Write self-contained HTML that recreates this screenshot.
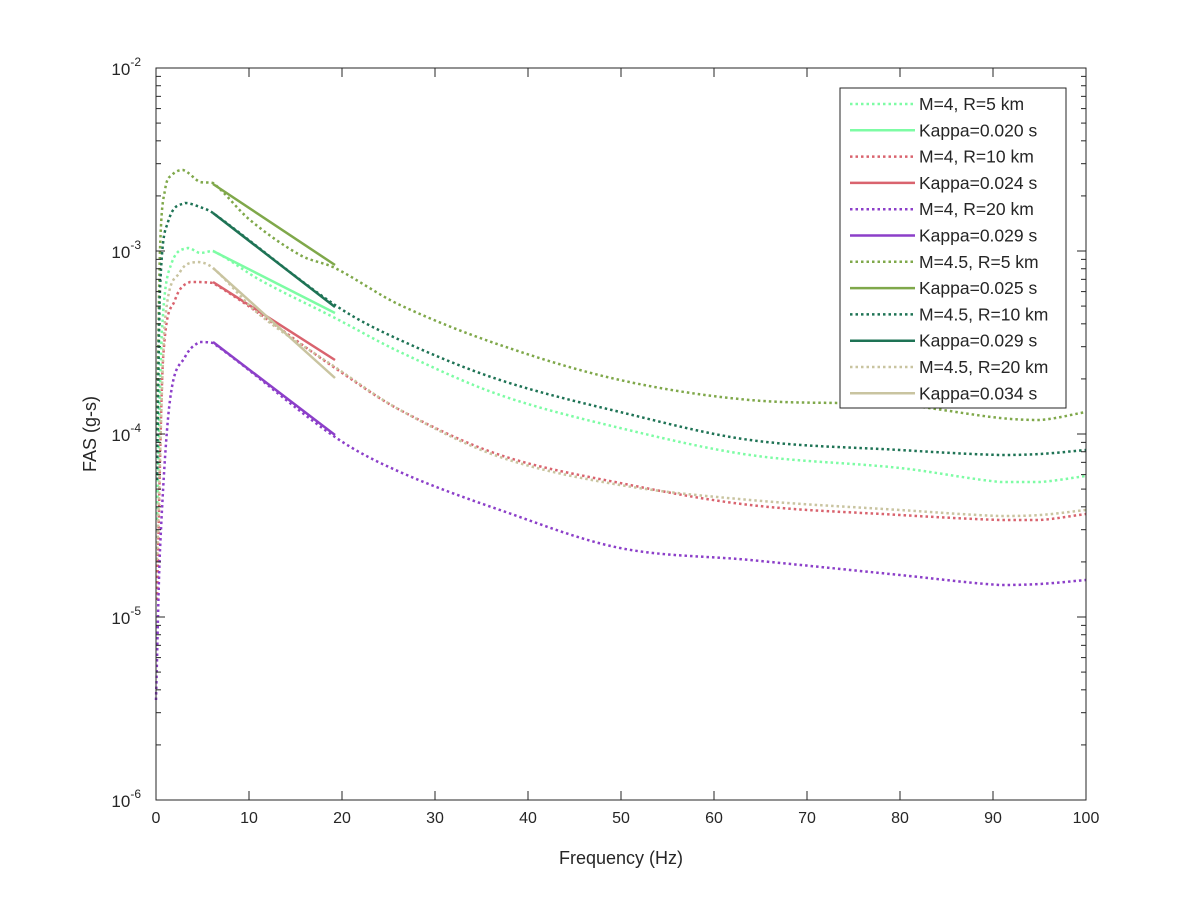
<!DOCTYPE html>
<html><head><meta charset="utf-8"><style>
body{margin:0;background:#fff}
svg text{font-family:"Liberation Sans",Arial,sans-serif;fill:#262626}
</style></head><body>
<svg id="s" width="1200" height="900" xmlns="http://www.w3.org/2000/svg">
<rect width="1200" height="900" fill="#fff"/>
<g id="curves"></g>
<g id="axes"></g>
<text x="621" y="864" font-size="18" text-anchor="middle">Frequency (Hz)</text>
<text transform="translate(96,434) rotate(-90)" font-size="18" text-anchor="middle">FAS (g-s)</text>
<g id="leg"></g>
</svg>
<script>
const NS="http://www.w3.org/2000/svg";
function el(p,t,a,txt){const e=document.createElementNS(NS,t);for(const k in a)e.setAttribute(k,a[k]);if(txt!=null)e.textContent=txt;document.getElementById(p).appendChild(e);return e;}
const L=156,R=1086,T=68,B=800;
const cols=["#7dfca4","#d9636e","#8c3fc9","#7fa84a","#1e7355","#c9c4a0"];
const dotted=[
[[157,520],[162,330],[172,262],[188,248],[200,253],[213,251],[260,280],[335,318],[400,352],[500,395],[620,428],[750,455],[900,468],[1000,482],[1040,482],[1086,476]],
[[157,600],[163,360],[175,300],[190,282],[213,283],[335,368],[400,410],[500,455],[620,483],[750,505],[900,515],[1000,520],[1040,520],[1086,514]],
[[156,700],[160,550],[170,400],[185,357],[200,342],[213,343],[335,437],[400,472],[500,510],[620,548],[750,560],[900,575],[1000,585],[1040,584],[1086,580]],
[[157,430],[160,250],[165,190],[172,175],[183,170],[200,182],[213,183],[250,220],[300,255],[335,268],[400,305],[500,345],[620,380],[750,400],[900,405],[1000,418],[1040,420],[1086,412]],
[[157,480],[160,290],[168,222],[185,203],[200,207],[213,213],[335,305],[400,340],[500,380],[620,412],[750,440],[900,450],[1000,455],[1040,454],[1086,450]],
[[157,560],[165,320],[180,272],[197,262],[213,268],[260,315],[335,367],[400,410],[500,457],[620,485],[750,500],[900,510],[1000,516],[1040,515],[1086,510]]];
const solid=[[[213,251],[335,313]],[[213,282],[335,360]],[[213,342],[335,435]],[[213,184],[335,265]],[[213,213],[335,307]],[[213,268],[335,378]]];
function path(p){let d="M"+p[0];for(let i=1;i<p.length;i++){const p0=p[Math.max(0,i-2)],p1=p[i-1],p2=p[i],p3=p[Math.min(p.length-1,i+1)];
const dx=p2[0]-p1[0];
let m1=(p2[1]-p0[1])/Math.max(1,(p2[0]-p0[0])), m2=(p3[1]-p1[1])/Math.max(1,(p3[0]-p1[0]));
const s=(p2[1]-p1[1])/Math.max(1,dx);
if(m1*s<=0)m1=0; if(m2*s<=0)m2=0;
if(Math.abs(m1)>3*Math.abs(s))m1=3*s; if(Math.abs(m2)>3*Math.abs(s))m2=3*s;
d+=" C"+(p1[0]+dx/3)+","+(p1[1]+m1*dx/3)+" "+(p2[0]-dx/3)+","+(p2[1]-m2*dx/3)+" "+p2;}return d;}
for(let i=0;i<6;i++){
el("curves","path",{d:path(dotted[i]),fill:"none",stroke:cols[i],"stroke-width":2.5,"stroke-dasharray":"2.5 3"});
el("curves","path",{d:path(solid[i]),fill:"none",stroke:cols[i],"stroke-width":2.5});}
el("axes","rect",{x:L,y:T,width:R-L,height:B-T,fill:"none",stroke:"#262626","stroke-width":1});
for(let i=0;i<=10;i++){const x=L+i*93;
el("axes","line",{x1:x,y1:B,x2:x,y2:B-9,stroke:"#262626"});
el("axes","line",{x1:x,y1:T,x2:x,y2:T+9,stroke:"#262626"});
el("axes","text",{x:x,y:B+23,"font-size":16,"text-anchor":"middle"},String(i*10));}
const dec=183;
for(let d=0;d<4;d++){for(let m=1;m<=9;m++){const y=B-d*dec-Math.log10(m)*dec;const len=m==1?9:5;
el("axes","line",{x1:L,y1:y,x2:L+len,y2:y,stroke:"#262626"});
el("axes","line",{x1:R,y1:y,x2:R-len,y2:y,stroke:"#262626"});}}
for(let d=0;d<=4;d++){const y=B-d*dec;
const t=el("axes","text",{x:141,y:y+7,"font-size":17,"text-anchor":"end"});
const a=document.createElementNS(NS,"tspan");a.textContent="10";t.appendChild(a);
const b=document.createElementNS(NS,"tspan");b.textContent=String(d-6);b.setAttribute("dy","-9");b.setAttribute("font-size","12");t.appendChild(b);}
el("leg","rect",{x:840,y:88,width:226,height:320,fill:"#fff",stroke:"#262626"});
const labs=["M=4, R=5 km","Kappa=0.020 s","M=4, R=10 km","Kappa=0.024 s","M=4, R=20 km","Kappa=0.029 s","M=4.5, R=5 km","Kappa=0.025 s","M=4.5, R=10 km","Kappa=0.029 s","M=4.5, R=20 km","Kappa=0.034 s"];
for(let i=0;i<12;i++){const y=104+i*26.3;const c=cols[Math.floor(i/2)];
const a={x1:850,y1:y,x2:915,y2:y,stroke:c,"stroke-width":2.5};if(i%2==0)a["stroke-dasharray"]="2.5 3";
el("leg","line",a);
el("leg","text",{x:919,y:y+6,"font-size":17.5},labs[i]);}
</script>
</body></html>
